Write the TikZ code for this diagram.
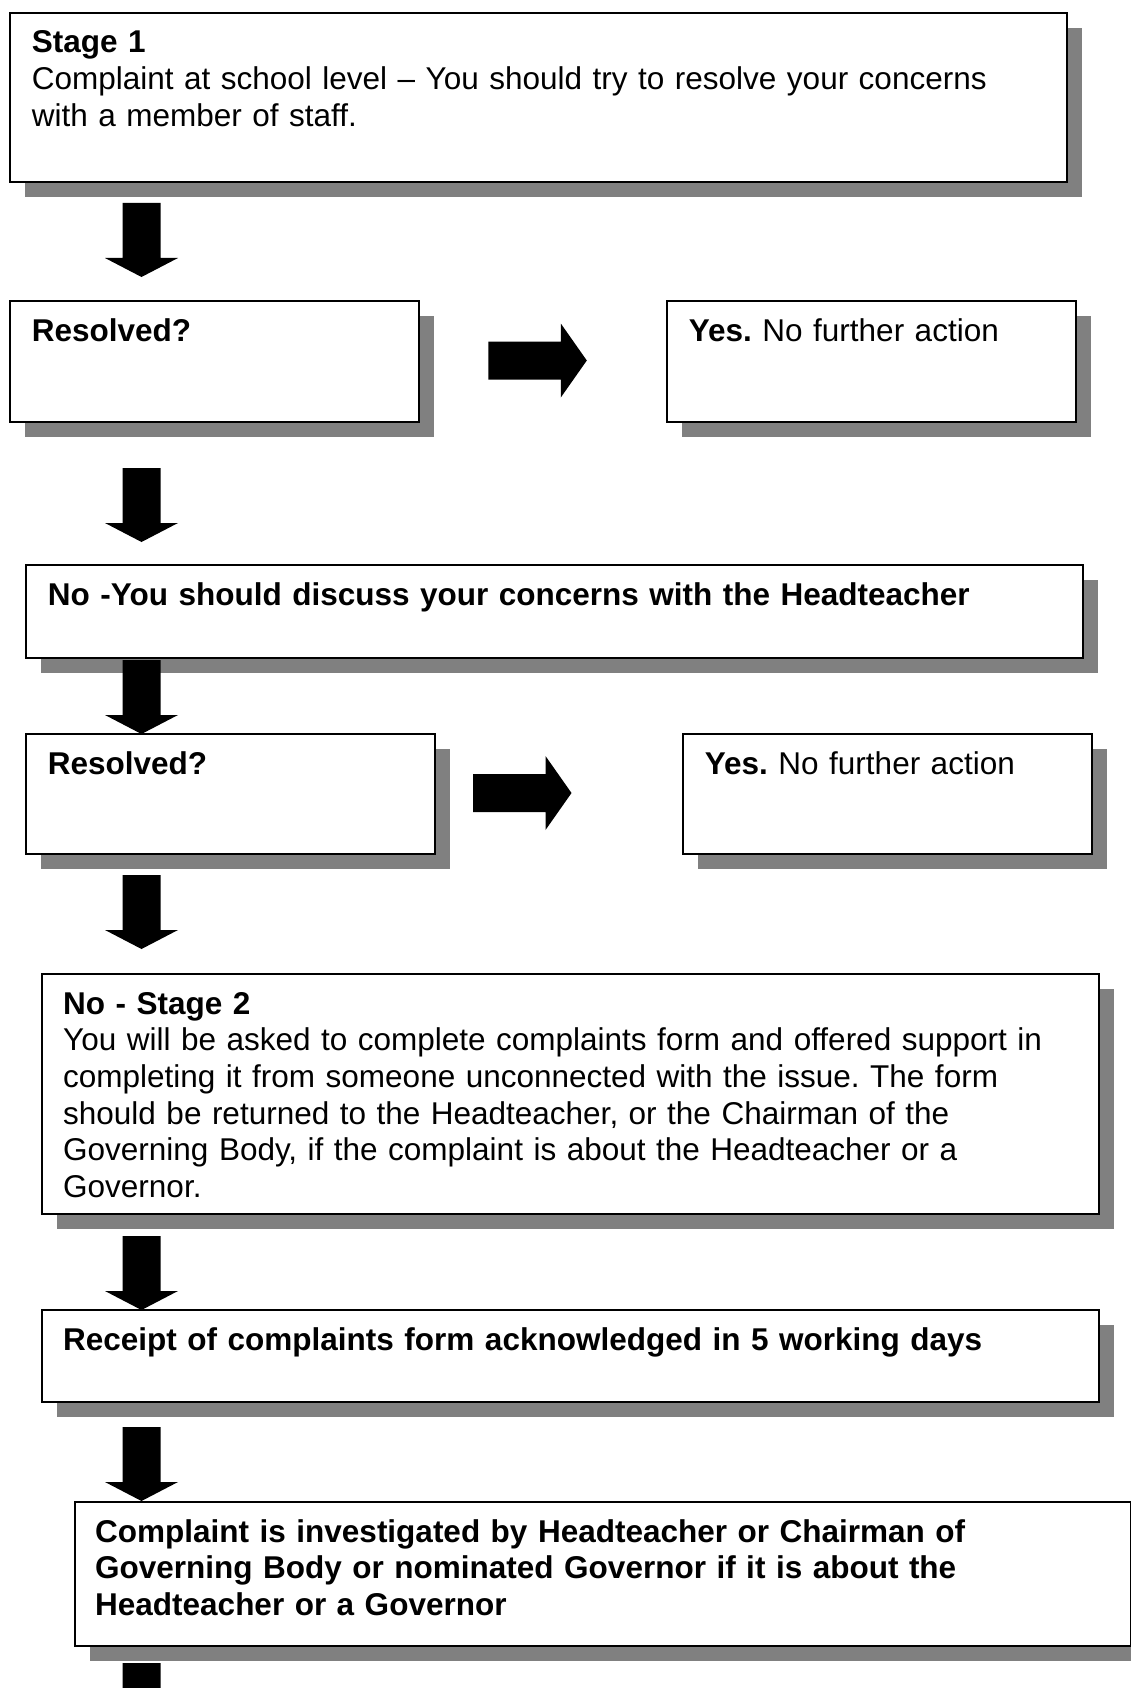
\documentclass[tikz,border=0pt]{standalone}
\usepackage{fontspec}
\setmainfont{Liberation Sans}
\frenchspacing
\definecolor{shadowgray}{HTML}{808080}
\tikzset{
  shadowshape/.style={fill=shadowgray, draw=none, rectangle, inner sep=0pt, anchor=north west},
  boxshape/.style={draw=black, line width=2pt, fill=white, rectangle, inner sep=0pt, anchor=north west},
  boxtext/.style={anchor=base west, inner sep=0pt, align=left, text width=#1,
    font=\fontsize{31.5}{36.7}\selectfont\frenchspacing},
  downarrow/.pic={\fill[black] (-19,0) -- (19,0) -- (19,55) -- (36.5,55) -- (0,74) -- (-36.5,55) -- (-19,55) -- cycle;},
  rightarrow/.pic={\fill[black] (0,-19) -- (72.5,-19) -- (72.5,-37) -- (98.5,0) -- (72.5,37) -- (72.5,19) -- (0,19) -- cycle;},
}
\begin{document}
\begin{tikzpicture}[x=1pt,y=-1pt]
\useasboundingbox (0,0) rectangle (1131,1688);
\fill[white] (0,0) rectangle (1131,1688);
\clip (0,0) rectangle (1131,1688);

% shadows
\node[shadowshape, minimum width=1057pt, minimum height=169pt] (B1s) at (25,28) {};
\node[shadowshape, minimum width=409pt, minimum height=121pt] (R1s) at (25,316) {};
\node[shadowshape, minimum width=409pt, minimum height=121pt] (Y1s) at (682,316) {};
\node[shadowshape, minimum width=1057pt, minimum height=93pt] (N1s) at (41,580) {};
\node[shadowshape, minimum width=409pt, minimum height=120pt] (R2s) at (41,749) {};
\node[shadowshape, minimum width=409pt, minimum height=120pt] (Y2s) at (698,749) {};
\node[shadowshape, minimum width=1057pt, minimum height=240pt] (S2s) at (57,989) {};
\node[shadowshape, minimum width=1057pt, minimum height=92pt] (RCs) at (57,1325) {};
\node[shadowshape, minimum width=1056pt, minimum height=144pt] (CIs) at (90,1517) {};

% boxes
\node[boxshape, minimum width=1057pt, minimum height=169pt] (B1) at (9,12) {};
\node[boxshape, minimum width=409pt, minimum height=121pt] (R1) at (9,300) {};
\node[boxshape, minimum width=409pt, minimum height=121pt] (Y1) at (666,300) {};
\node[boxshape, minimum width=1057pt, minimum height=93pt] (N1) at (25,564) {};
\node[boxshape, minimum width=409pt, minimum height=120pt] (R2) at (25,733) {};
\node[boxshape, minimum width=409pt, minimum height=120pt] (Y2) at (682,733) {};
\node[boxshape, minimum width=1057pt, minimum height=240pt] (S2) at (41,973) {};
\node[boxshape, minimum width=1057pt, minimum height=92pt] (RC) at (41,1309) {};
\node[boxshape, minimum width=1056pt, minimum height=144pt] (CI) at (74,1501) {};

% texts
\node[boxtext=1030pt] (B1t) at ([shift={(22.7,41)}]B1.north west)
  {\textbf{Stage 1}\\Complaint at school level – You should try to resolve your concerns\\with a member of staff.};
\node[boxtext=380pt] (R1t) at ([shift={(22.7,41)}]R1.north west) {\textbf{Resolved?}};
\node[boxtext=380pt] (Y1t) at ([shift={(22.7,41)}]Y1.north west) {\textbf{Yes.} No further action};
\node[boxtext=1030pt] (N1t) at ([shift={(22.7,41)}]N1.north west)
  {\textbf{No -You should discuss your concerns with the Headteacher}};
\node[boxtext=380pt] (R2t) at ([shift={(22.7,41)}]R2.north west) {\textbf{Resolved?}};
\node[boxtext=380pt] (Y2t) at ([shift={(22.7,41)}]Y2.north west) {\textbf{Yes.} No further action};
\node[boxtext=1030pt] (S2t) at ([shift={(22,41)}]S2.north west)
  {\textbf{No - Stage 2}\\You will be asked to complete complaints form and offered support in\\completing it from someone unconnected with the issue. The form\\should be returned to the Headteacher, or the Chairman of the\\Governing Body, if the complaint is about the Headteacher or a\\Governor.};
\node[boxtext=1030pt] (RCt) at ([shift={(22,41)}]RC.north west)
  {\textbf{Receipt of complaints form acknowledged in 5 working days}};
\node[boxtext=1030pt] (CIt) at ([shift={(21,41)}]CI.north west)
  {\textbf{Complaint is investigated by Headteacher or Chairman of\\Governing Body or nominated Governor if it is about the\\Headteacher or a Governor}};

% down arrows
\coordinate (a1) at (141.5,203);
\coordinate (a2) at (141.5,468);
\coordinate (a3) at (141.5,660);
\coordinate (a4) at (141.5,875);
\coordinate (a5) at (141.5,1236);
\coordinate (a6) at (141.5,1427);
\coordinate (a7) at (141.5,1663);
\foreach \c in {a1,a2,a3,a4,a5,a6,a7} { \pic at (\c) {downarrow}; }

% right arrows
\coordinate (r1) at (488.3,360.5);
\coordinate (r2) at (473,793);
\pic at (r1) {rightarrow};
\pic at (r2) {rightarrow};
\end{tikzpicture}
\end{document}
